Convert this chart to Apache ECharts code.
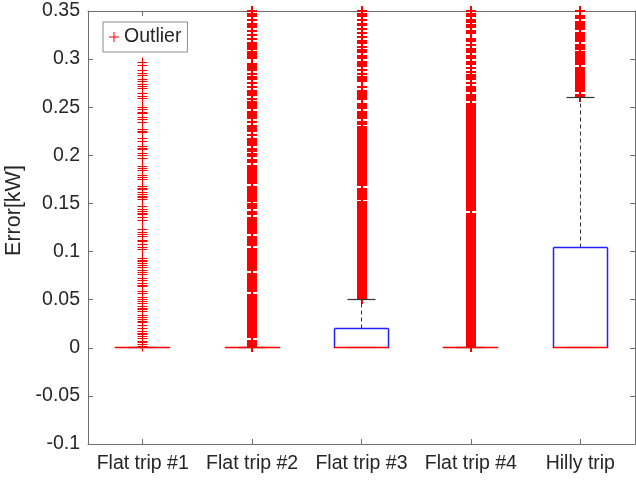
<!DOCTYPE html>
<html><head><meta charset="utf-8">
<script src="https://cdn.jsdelivr.net/npm/echarts@6/dist/echarts.min.js"></script>
<style>html,body{margin:0;padding:0;background:#fff}#c{width:636px;height:483px}</style>
</head><body><div id="c"></div>
<script>
// ---- data ----
const categories = ['Flat trip #1', 'Flat trip #2', 'Flat trip #3', 'Flat trip #4', 'Hilly trip'];
const whiskerLow  = [0, 0, 0, 0, 0];
const q1          = [0, 0, 0, 0, 0];
const median      = [0, 0, 0, 0, 0];
const q3          = [0, 0, 0.02, 0, 0.104];
const whiskerHigh = [0, 0, 0.05, 0, 0.26];
const yMin = -0.1, yMax = 0.35, yInterval = 0.05;
const yAxisName = 'Error[kW]';
const legendName = 'Outlier';

// outliers, in thousandths of kW
const outliers1 = [296,293,288,285,283,279,277,274,272,269,264,261,259,250,248,245,243,239,237,234,227,225,224,218,214,209,207,206,202,200,197,188,186,184,179,177,175,168,166,164,161,159,157,156,154,147,144,142,140,138,135,132,123,120,118,116,112,110,107,104,102,93,91,90,88,86,83,80,78,76,72,70,67,65,64,59,56,52,50,48,46,43,41,40,38,34,31,29,27,26,23,20,17,15,14,12,10,7,5,3,1];
const outliers2 = [1,3,5,7,11,13,15,17,19,21,23,25,27,29,31,33,35,37,39,41,43,45,47,49,51,53,55,59,61,63,65,67,69,71,73,75,77,81,83,85,87,89,91,93,95,97,99,101,103,107,109,111,113,115,119,121,123,125,127,129,131,133,135,139,141,145,147,149,153,155,157,159,161,163,165,167,171,173,175,177,179,
  181,183,185,187,189,193,195,199,201,205,207,211,213,215,217,221,225,227,229,231,235,239,241,243,245,249,251,253,255,259,263,265,267,271,275,279,281,285,289,291,293,295,301,303,305,307,311,313,315,317,321,325,329,333,335,337,341,345,347,350];
const outliers3 = [51,53,55,57,59,61,63,65,67,69,71,73,75,77,79,81,83,85,87,89,91,93,95,97,99,101,103,105,107,109,111,113,115,117,119,121,123,125,127,129,131,133,135,137,139,141,143,145,147,149,151,155,157,159,161,163,165,169,171,173,175,177,179,181,183,185,187,189,191,193,195,197,199,201,203,205,207,209,211,213,215,217,219,221,223,225,227,229,
  233,235,239,241,243,245,249,251,253,259,261,263,265,267,271,277,279,281,285,289,293,295,297,301,303,307,309,313,317,319,323,327,331,335,337,341,345,347,350];
const outliers4 = [1,3,5,7,9,11,13,15,17,19,21,23,25,27,29,31,33,35,37,39,41,43,45,47,49,51,53,55,57,59,61,63,65,67,69,71,73,75,77,79,81,83,85,87,89,91,93,95,97,99,101,103,105,107,109,111,113,115,117,119,121,123,125,127,129,131,133,135,137,139,143,145,147,149,151,153,155,157,159,161,163,165,167,169,171,173,175,177,179,181,183,185,187,189,191,193,195,197,199,201,203,205,207,209,211,213,215,217,219,221,223,225,227,229,231,233,235,237,239,241,243,245,247,249,251,253,
  257,259,261,263,267,269,271,275,279,281,283,287,291,295,297,301,303,307,309,311,315,319,321,327,329,333,335,339,341,345,347,350];
const outliers5 = [261,263,267,269,271,273,275,277,279,281,283,285,287,289,291,295,297,299,301,303,305,307,311,313,315,319,321,323,325,327,331,333,335,337,339,343,345,350];

// ---- build ----
const outlierSets = [outliers1, outliers2, outliers3, outliers4, outliers5];
const plusThin = 'path://M0,4.5L10,4.5L10,5.5L0,5.5Z M4.5,0L5.5,0L5.5,10L4.5,10Z';
const textColor = '#262626';
const axisColor = '#6e6e6e';
const fontFamily = "'Liberation Sans', Arial, sans-serif";

function snap(v, lw) { return (lw % 2 === 1) ? Math.round(v - 0.5) + 0.5 : Math.round(v); }

const outlierSeries = outlierSets.map((set, i) => {
  const lw = i === 0 ? 1 : 2;
  return {
    type: 'custom',
    name: legendName,
    clip: false,
    silent: true,
    z: 2,
    itemStyle: { color: '#ff0000' },
    encode: { x: 0, y: 1 },
    data: set.map(v => [i, v / 1000]),
    renderItem: function (params, api) {
      const c = api.coord([api.value(0), api.value(1)]);
      const x = snap(c[0], lw), y = snap(c[1], lw);
      const st = { stroke: '#ff0000', lineWidth: lw, fill: null };
      return { type: 'group', children: [
        { type: 'line', shape: { x1: x - 5, y1: y, x2: x + 5, y2: y }, style: st },
        { type: 'line', shape: { x1: x, y1: y - 5, x2: x, y2: y + 5 }, style: st }
      ] };
    }
  };
});

const boxData = categories.map((c, i) => [i, whiskerLow[i], q1[i], median[i], q3[i], whiskerHigh[i]]);

function boxPart(part, z) {
  return {
    type: 'custom',
    name: 'box-' + part,
    z: z,
    silent: true,
    clip: false,
    encode: { x: 0, y: [1, 2, 3, 4, 5] },
    data: boxData,
    renderItem: function (params, api) {
      const idx = api.value(0);
      const band = api.size([1, 0])[0];
      const hw = band * 0.25, cw = band * 0.125;
      const py = k => snap(api.coord([idx, api.value(k)])[1], 1);
      const lo = py(1), b1 = py(2), md = py(3), b3 = py(4), hi = py(5);
      const x = snap(api.coord([idx, 0])[0], 1);
      const xl = snap(x - hw, 1), xr = snap(x + hw, 1);
      const cl = snap(x - cw, 1), cr = snap(x + cw, 1);
      const ch = [];
      if (part === 'whisker') {
        const st = { stroke: '#333333', lineWidth: 1, lineDash: [4, 3], fill: null };
        if (hi < b3) ch.push({ type: 'line', shape: { x1: x, y1: b3, x2: x, y2: hi }, style: st });
        if (lo > b1) ch.push({ type: 'line', shape: { x1: x, y1: b1, x2: x, y2: lo }, style: st });
      } else if (part === 'cap') {
        const st = { stroke: '#333333', lineWidth: 1.2, fill: null };
        ch.push({ type: 'line', shape: { x1: cl, y1: hi, x2: cr, y2: hi }, style: st });
        ch.push({ type: 'line', shape: { x1: cl, y1: lo, x2: cr, y2: lo }, style: st });
      } else if (part === 'box') {
        if (b1 > b3) {
          const st = { stroke: '#2020ff', lineWidth: 1.5, fill: null };
          if (b3 !== md) ch.push({ type: 'line', shape: { x1: xl, y1: b3, x2: xr, y2: b3 }, style: st });
          if (b1 !== md) ch.push({ type: 'line', shape: { x1: xl, y1: b1, x2: xr, y2: b1 }, style: st });
          ch.push({ type: 'line', shape: { x1: xl, y1: b3, x2: xl, y2: b1 }, style: st });
          ch.push({ type: 'line', shape: { x1: xr, y1: b3, x2: xr, y2: b1 }, style: st });
        }
      } else if (part === 'median') {
        ch.push({ type: 'line', shape: { x1: xl - 0.75, y1: md, x2: xr + 0.75, y2: md }, style: { stroke: '#ff0000', lineWidth: 1.6, fill: null } });
      }
      return { type: 'group', children: ch };
    }
  };
}

const chart = echarts.init(document.getElementById('c'), null, { renderer: 'canvas' });
chart.setOption({
  animation: false,
  backgroundColor: '#fff',
  textStyle: { fontFamily: fontFamily },
  grid: { left: 88, right: 1, top: 11, bottom: 39, containLabel: false, outerBoundsMode: 'none' },
  legend: {
    left: 103, top: 22,
    padding: [5, 6, 5, 6],
    backgroundColor: '#fff',
    borderColor: '#8a8a8a', borderWidth: 1, borderRadius: 0,
    itemWidth: 10, itemHeight: 10,
    selectedMode: false,
    textStyle: { fontSize: 19.5, color: textColor, fontFamily: fontFamily },
    data: [{ name: legendName, icon: plusThin, itemStyle: { color: '#ff0000', borderWidth: 0 } }]
  },
  xAxis: [{
    type: 'category', data: categories, boundaryGap: true,
    axisLine: { show: true, onZero: false, lineStyle: { color: axisColor, width: 1 } },
    axisTick: { show: true, inside: true, alignWithLabel: true, length: 5, lineStyle: { color: axisColor } },
    axisLabel: { margin: 10, fontSize: 19.5, color: textColor, fontFamily: fontFamily, interval: 0 },
    splitLine: { show: false }
  }, {
    type: 'category', data: categories, boundaryGap: true, position: 'top',
    axisLine: { show: true, onZero: false, lineStyle: { color: axisColor, width: 1 } },
    axisTick: { show: true, inside: true, alignWithLabel: true, length: 5, lineStyle: { color: axisColor } },
    axisLabel: { show: false }, splitLine: { show: false }
  }],
  yAxis: [{
    type: 'value', min: yMin, max: yMax, interval: yInterval,
    name: yAxisName, nameLocation: 'middle', nameGap: 60,
    nameTextStyle: { fontSize: 21.5, color: textColor, fontFamily: fontFamily, padding: [0, 0, 0, 34] },
    axisLine: { show: true, onZero: false, lineStyle: { color: axisColor, width: 1 } },
    axisTick: { show: true, inside: true, length: 5, lineStyle: { color: axisColor } },
    axisLabel: { margin: 8, fontSize: 19.5, color: textColor, fontFamily: fontFamily },
    splitLine: { show: false }
  }, {
    type: 'value', min: yMin, max: yMax, interval: yInterval, position: 'right',
    axisLine: { show: true, onZero: false, lineStyle: { color: axisColor, width: 1 } },
    axisTick: { show: true, inside: true, length: 5, lineStyle: { color: axisColor } },
    axisLabel: { show: false }, splitLine: { show: false }
  }],
  series: outlierSeries.concat([boxPart('whisker', 3), boxPart('cap', 4), boxPart('box', 5), boxPart('median', 6)])
});
</script>
</body></html>
